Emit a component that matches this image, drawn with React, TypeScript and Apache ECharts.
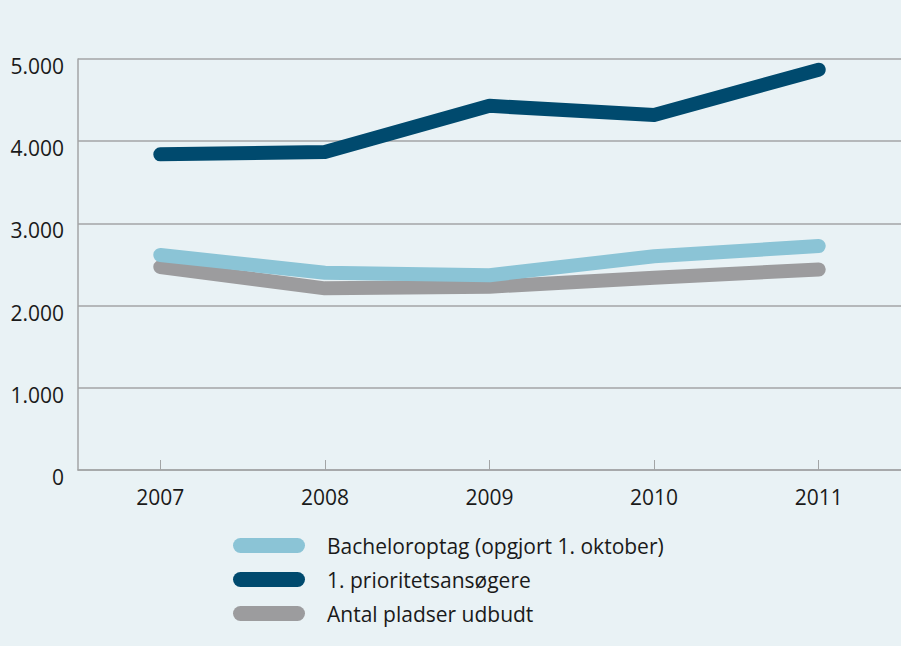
import React, { useEffect, useRef } from "react";
import * as echarts from "echarts";

const years = ["2007", "2008", "2009", "2010", "2011"];
const bacheloroptag = [2615, 2400, 2370, 2600, 2725];
const prioritet = [3840, 3870, 4430, 4320, 4870];
const pladser = [2470, 2210, 2230, 2340, 2440];

const nameBach = "Bacheloroptag (opgjort 1. oktober)";
const namePrio = "1. prioritetsansøgere";
const namePlad = "Antal pladser udbudt";

const FONT = "'Open Sans', 'Noto Sans', sans-serif";
const pill = "path://M7.5,0 H64.5 A7.5,7.5 0 0 1 64.5,15 H7.5 A7.5,7.5 0 0 1 7.5,0 Z";

export default function App() {
  const ref = useRef<HTMLDivElement>(null);
  useEffect(() => {
    if (!ref.current) return;
    const chart = echarts.init(ref.current, null, { renderer: "svg" });
    const line = (name: string, data: number[], color: string, z: number) => ({
      name,
      type: "line",
      data,
      symbol: "none",
      z,
      lineStyle: { width: 14, color, cap: "round", join: "round" },
      itemStyle: { color },
    });
    chart.setOption({
      animation: false,
      backgroundColor: "#e9f2f5",
      textStyle: { fontFamily: FONT },
      grid: { left: 78, right: 0, top: 59, bottom: 176, containLabel: false },
      xAxis: {
        type: "category",
        data: years,
        boundaryGap: true,
        axisLine: { lineStyle: { color: "#a3a5a6", width: 1.5 } },
        axisTick: { show: true, inside: true, length: 10, alignWithLabel: true, lineStyle: { color: "#a3a5a6" } },
        axisLabel: { color: "#1a1a1a", fontSize: 21, margin: 16, fontFamily: FONT },
      },
      yAxis: {
        type: "value",
        min: 0,
        max: 5000,
        interval: 1000,
        axisLine: { show: true, lineStyle: { color: "#a3a5a6", width: 1.5 } },
        axisTick: { show: false },
        splitLine: { show: true, lineStyle: { color: "#a3a5a6", width: 1.5 } },
        axisLabel: {
          color: "#1a1a1a",
          fontSize: 21,
          margin: 14,
          fontFamily: FONT,
          verticalAlign: "top",
          lineHeight: 14,
          formatter: (v: number) => String(v).replace(/\B(?=(\d{3})+(?!\d))/g, "."),
        },
      },
      legend: {
        orient: "vertical",
        left: 228,
        top: 530,
        itemWidth: 72,
        itemHeight: 15,
        itemGap: 13,
        icon: pill,
        data: [nameBach, namePrio, namePlad],
        textStyle: { fontSize: 21, color: "#1a1a1a", fontFamily: FONT, lineHeight: 21, padding: [0, 0, 0, 17] },
      },
      series: [
        line(namePlad, pladser, "#9c9c9e", 2),
        line(nameBach, bacheloroptag, "#8bc4d6", 3),
        line(namePrio, prioritet, "#004a6e", 4),
      ],
    });
    return () => chart.dispose();
  }, []);
  return (
    <div
      ref={ref}
      style={{ position: "absolute", left: 0, top: 0, width: 901, height: 646 }}
    />
  );
}
